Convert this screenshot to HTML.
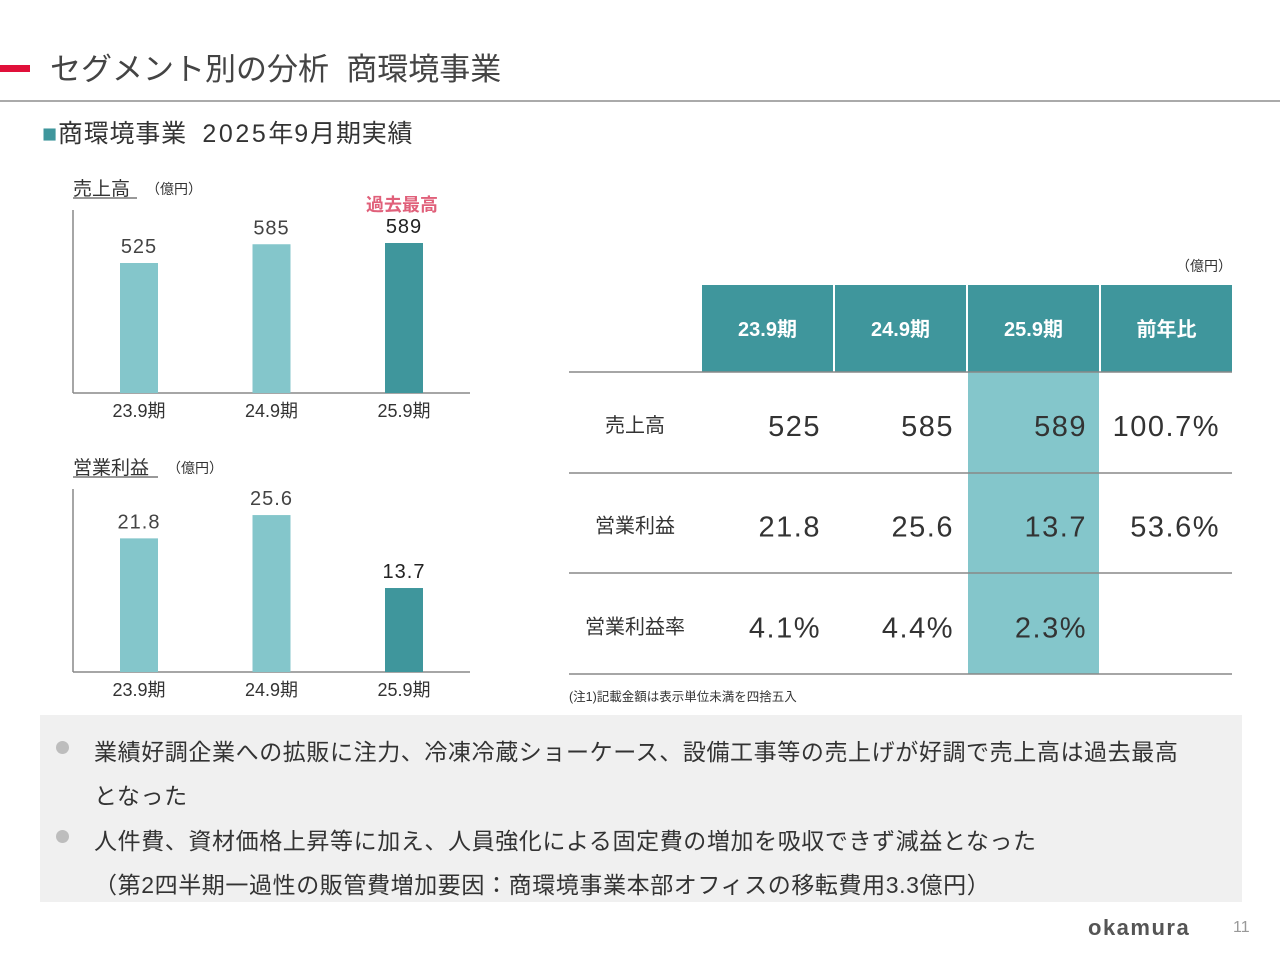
<!DOCTYPE html>
<html><head><meta charset="utf-8"><style>
body{margin:0;width:1280px;height:960px;background:#fff;font-family:"Liberation Sans","Noto Sans CJK JP",sans-serif;color:#333;position:relative;overflow:hidden}
.a{position:absolute;white-space:nowrap}
.ln{position:absolute;font-size:23px;letter-spacing:0.6px;color:#333;white-space:nowrap}
.dot{position:absolute;width:13px;height:13px;border-radius:50%;background:#bdbdbd}
</style></head><body>
<div class="a" style="left:0;top:65px;width:30px;height:7px;background:#e0103a"></div>
<div class="a" style="left:50px;top:44px;font-size:31px;color:#444">セグメント別の分析&nbsp; 商環境事業</div>
<div class="a" style="left:0;top:100px;width:1280px;height:2px;background:#aaa"></div>
<div class="a" style="left:42px;top:114px;font-size:25px;color:#333;letter-spacing:0.8px"><span style="color:#3f969c">■</span>商環境事業&nbsp; <span style="letter-spacing:2.6px">2025</span>年<span style="letter-spacing:2px">9</span>月期実績</div>

<svg class="a" style="left:0;top:0" width="560" height="710" id="ch"></svg>

<div class="a" style="left:1176px;top:256px;font-size:14px">（億円）</div>
<svg class="a" style="left:0;top:0" width="1280" height="710" id="tb"></svg>
<div class="a" style="left:569px;top:686px;font-size:12.5px">(注1)記載金額は表示単位未満を四捨五入</div>

<div class="a" style="left:40px;top:715px;width:1202px;height:187px;background:#f0f0f0"></div>
<div>
<div class="dot" style="left:56px;top:741px"></div>
<div class="ln" style="left:94px;top:733px">業績好調企業への拡販に注力、冷凍冷蔵ショーケース、設備工事等の売上げが好調で売上高は過去最高</div>
<div class="ln" style="left:94px;top:777px">となった</div>
<div class="dot" style="left:56px;top:830px"></div>
<div class="ln" style="left:94px;top:822px">人件費、資材価格上昇等に加え、人員強化による固定費の増加を吸収できず減益となった</div>
<div class="ln" style="left:94px;top:866px">（第2四半期一過性の販管費増加要因：商環境事業本部オフィスの移転費用3.3億円）</div>
</div>
<div class="a" style="left:1088px;top:915px;font-size:22px;font-weight:bold;color:#555;letter-spacing:1.5px">okamura</div>
<div class="a" style="left:1233px;top:919px;font-size:16px;color:#999">11</div>

<script>
const periods=["23.9期","24.9期","25.9期"];
const sales=[525,585,589];
const salesLabels=["525","585","589"];
const profit=[21.8,25.6,13.7];
const profitLabels=["21.8","25.6","13.7"];
const tableHeaders=["23.9期","24.9期","25.9期","前年比"];
const rowNames=["売上高","営業利益","営業利益率"];
const tableValues=[["525","585","589","100.7%"],["21.8","25.6","13.7","53.6%"],["4.1%","4.4%","2.3%",""]];
const NS="http://www.w3.org/2000/svg";
function mk(p,t,a,txt){const e=document.createElementNS(NS,t);for(const k in a)e.setAttribute(k,a[k]);if(txt!==undefined)e.textContent=txt;p.appendChild(e);return e;}
const ch=document.getElementById('ch');
function chart(title,titleW,top,base,vals,labels,yfn){
  const t=mk(ch,'text',{x:73,y:top-15,'font-size':19,fill:'#333'},title);
  
  
  mk(ch,'line',{x1:73,y1:top-12,x2:73+titleW,y2:top-12,stroke:'#333','stroke-width':1});
  mk(ch,'text',{x:146+(titleW-64),y:top-16,'font-size':14,fill:'#333'},'（億円）');
  mk(ch,'line',{x1:73,y1:top,x2:73,y2:base,stroke:'#888','stroke-width':1.5});
  mk(ch,'line',{x1:73,y1:base,x2:470,y2:base,stroke:'#888','stroke-width':1.5});
  vals.forEach((v,i)=>{
    const cx=139+i*132.5;const y=yfn(v);
    const b=mk(ch,'rect',{x:cx-19,y:y,width:38,height:base-y,fill:i==2?'#3f969c':'#84c6cb'});
    
    
    mk(ch,'text',{x:cx,y:y-10,'font-size':20,'text-anchor':'middle',fill:i==2?'#222':'#444','letter-spacing':1},labels[i]);
    mk(ch,'text',{x:cx,y:base+24,'font-size':18,'text-anchor':'middle',fill:'#333'},periods[i]);
  });
}
chart('売上高',64,210,393,sales,salesLabels,v=>393-(v-109)*0.3125);
mk(ch,'text',{x:402,y:211,'font-size':18,'text-anchor':'middle',fill:'#e0607a','font-weight':'bold'},'過去最高');
chart('営業利益',85,489,672,profit,profitLabels,v=>672-v*6.13);

const tb=document.getElementById('tb');
const colX=[702,835,968,1101],colW=131;
mk(tb,'rect',{x:968,y:372,width:131,height:302,fill:'#84c6cb'});
tableHeaders.forEach((h,i)=>{
  mk(tb,'rect',{x:colX[i],y:285,width:colW,height:87,fill:'#3f969c'});
  mk(tb,'text',{x:colX[i]+colW/2,y:336,'font-size':20,'font-weight':'bold','text-anchor':'middle',fill:'#fff'},h);
});
[372,473,573,674].forEach(y=>mk(tb,'line',{x1:569,y1:y,x2:1232,y2:y,stroke:'#888','stroke-width':1.5}));
rowNames.forEach((r,j)=>{
  const cy=372+j*100.7+50;
  mk(tb,'text',{x:635,y:cy+10,'font-size':20,'text-anchor':'middle',fill:'#333'},r);
  tableValues[j].forEach((v,i)=>{
    mk(tb,'text',{x:colX[i]+colW-12,y:cy+14,'font-size':29,'text-anchor':'end',fill:'#333','letter-spacing':1.5},v);
  });
});
</script>
</body></html>
